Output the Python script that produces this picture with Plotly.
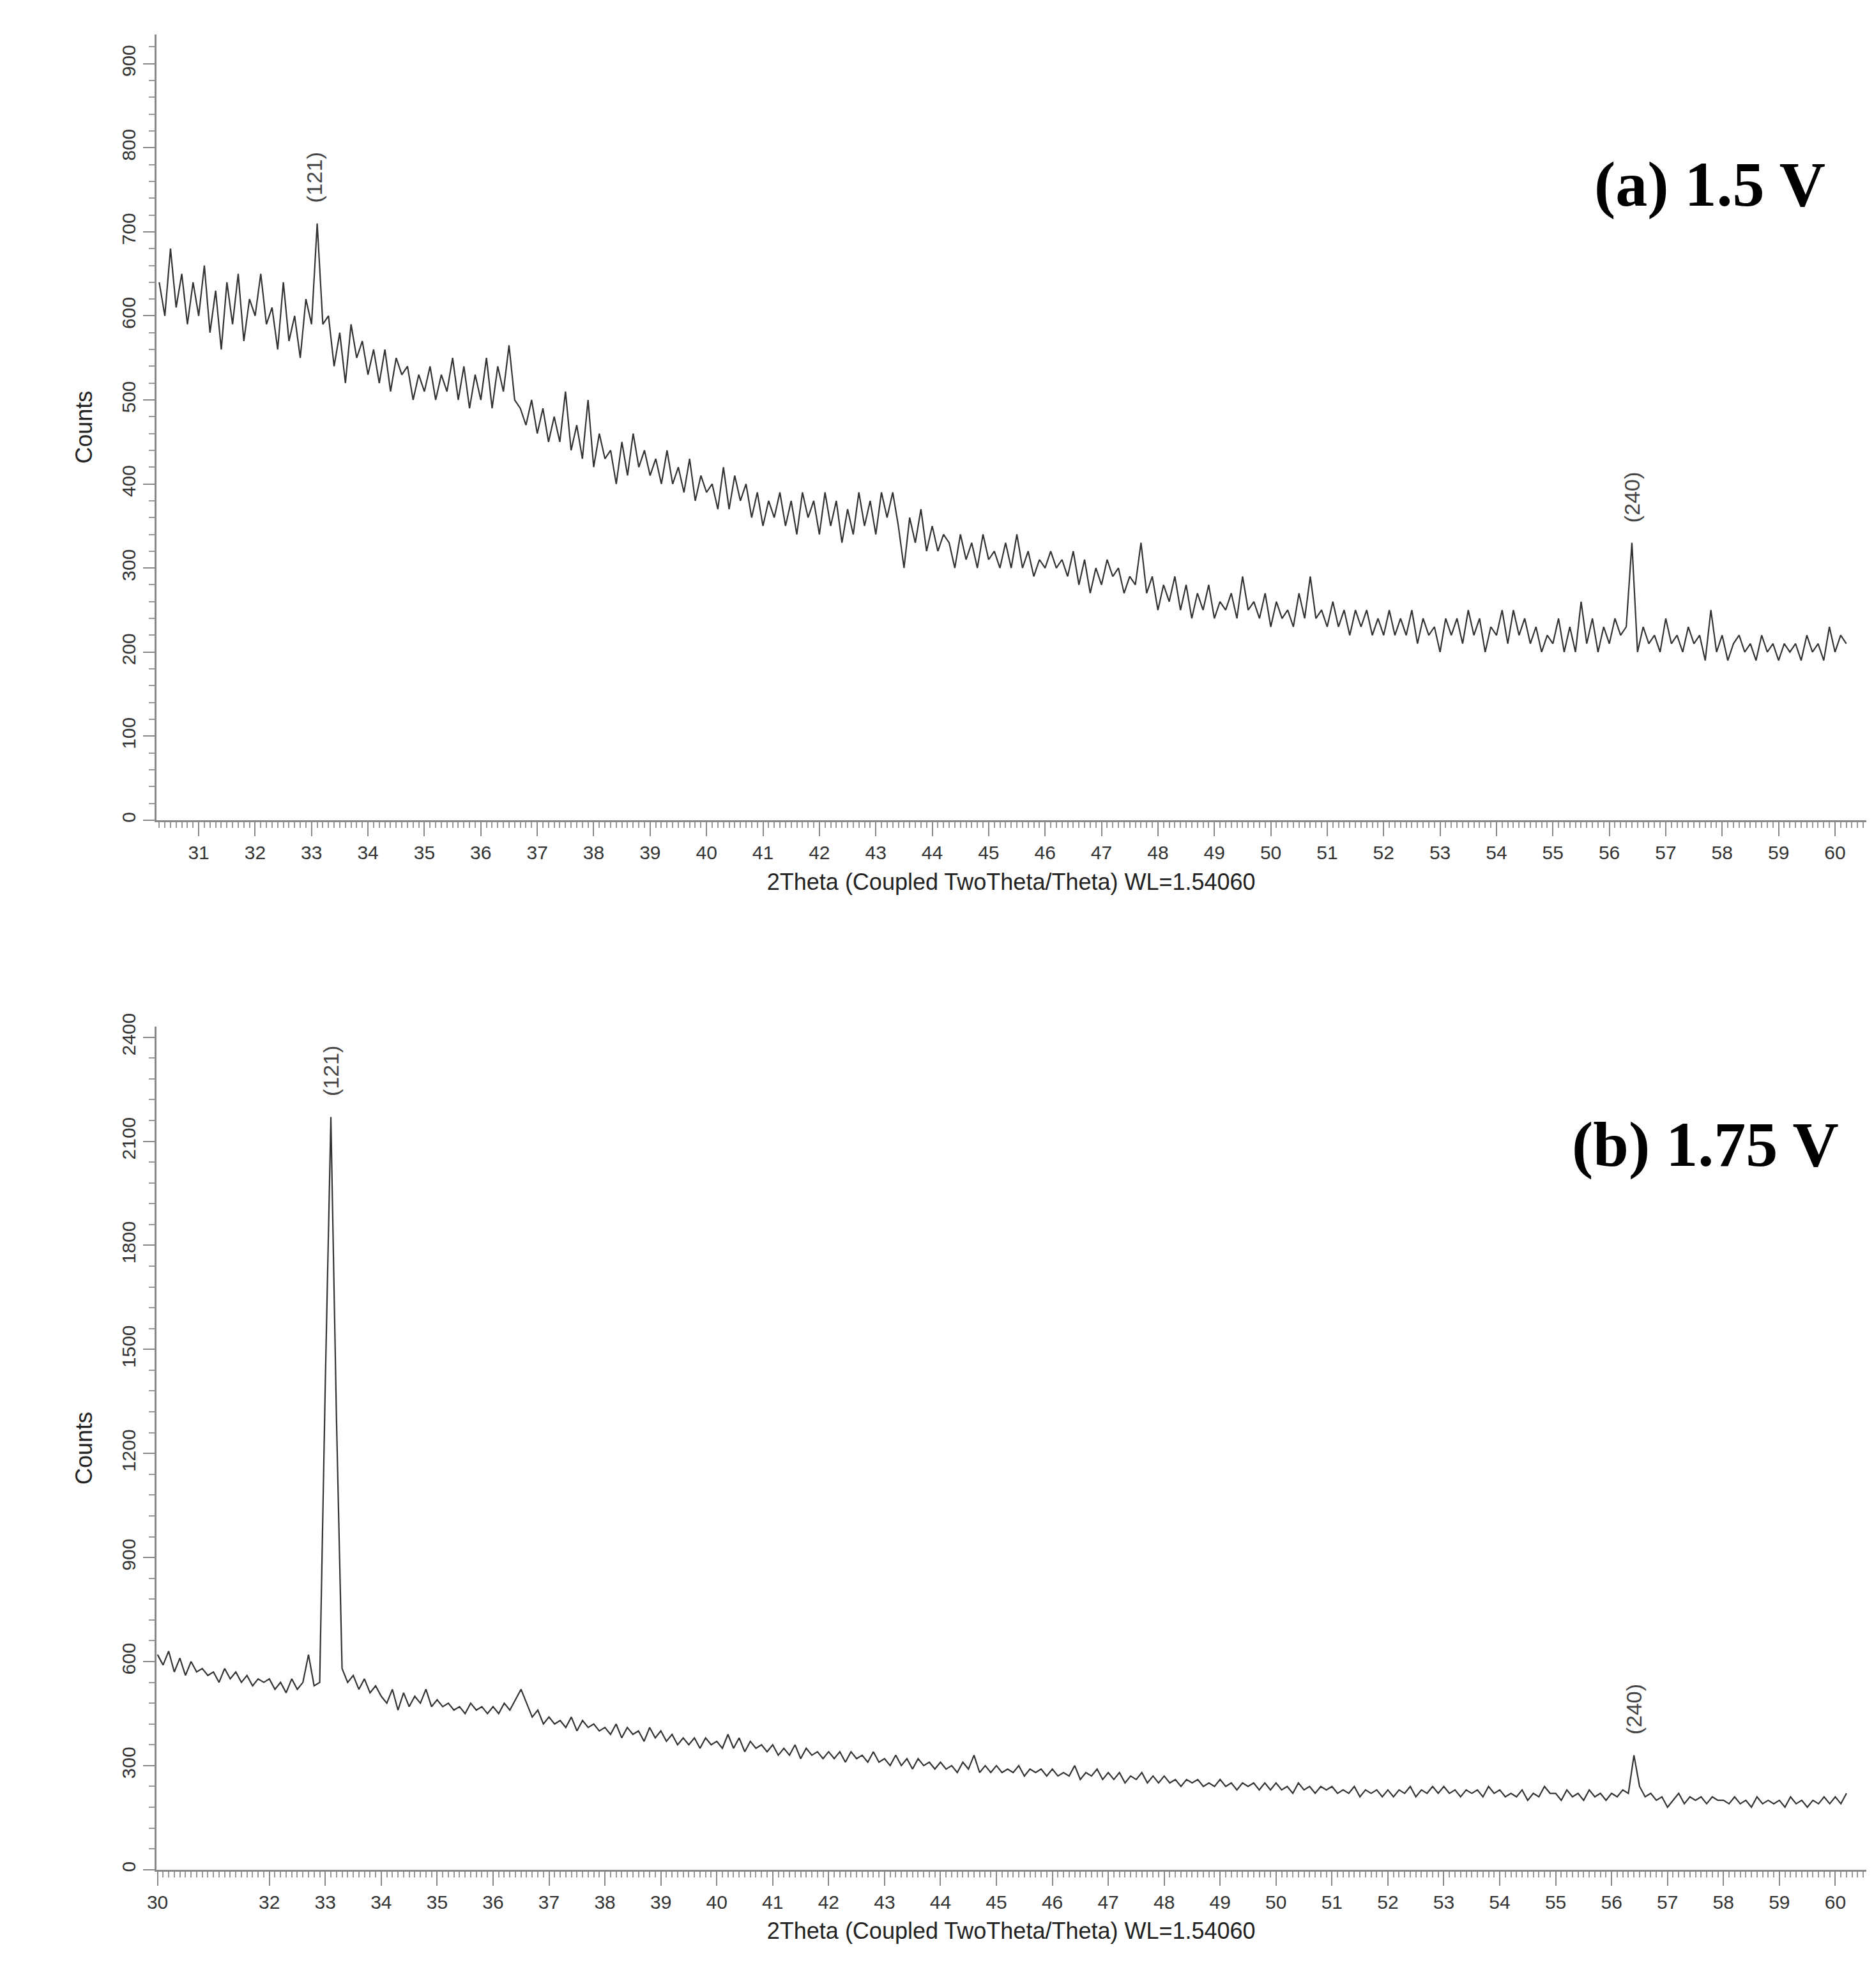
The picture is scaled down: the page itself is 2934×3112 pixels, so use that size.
import numpy as np
import plotly.graph_objects as go

# Panel (a) 1.5 V: start 30.3, step 0.1
a_start = 30.3
a_counts = [
640,600,680,610,650,590,640,600,660,580,
630,560,640,590,650,570,620,600,650,590,
610,560,640,570,600,550,620,590,710,590,
600,540,580,520,590,550,570,530,560,520,
560,510,550,530,540,500,530,510,540,500,
530,510,550,500,540,490,530,500,550,490,
540,510,565,500,490,470,500,460,490,450,
480,450,510,440,470,430,500,420,460,430,
440,400,450,410,460,420,440,410,430,400,
440,400,420,390,430,380,410,390,400,370,
420,370,410,380,400,360,390,350,380,360,
390,350,380,340,390,360,380,340,390,350,
380,330,370,340,390,350,380,340,390,360,
390,350,300,360,330,370,320,350,320,340,
330,300,340,310,330,300,340,310,320,300,
330,300,340,300,320,290,310,300,320,300,
310,290,320,280,310,270,300,280,310,290,
300,270,290,280,330,270,290,250,280,260,
290,250,280,240,270,250,280,240,260,250,
270,240,290,250,260,240,270,230,260,240,
250,230,270,240,290,240,250,230,260,230,
250,220,250,230,250,220,240,220,250,220,
240,220,250,210,240,220,230,200,240,220,
240,210,250,220,240,200,230,220,250,210,
250,220,240,210,230,200,220,210,240,200,
230,200,260,210,240,200,230,210,240,220,
230,330,200,230,210,220,200,240,210,220,
200,230,210,220,190,250,200,220,190,210,
220,200,210,190,220,200,210,190,210,200,
210,190,220,200,210,190,230,200,220,210,
]

# Panel (b) 1.75 V: start 30.0, step 0.1
b_start = 30.0
b_counts = [
620,590,630,570,610,560,600,570,580,560,
570,540,580,550,570,540,560,530,550,540,
550,520,540,510,550,520,540,620,530,540,
1400,2170,1300,580,540,560,520,550,510,530,
500,480,520,460,510,470,500,480,520,470,
490,470,480,460,470,450,480,460,470,450,
470,450,480,460,490,520,480,440,460,420,
440,420,430,410,440,400,430,410,420,400,
410,390,420,380,410,390,400,370,410,380,
400,370,390,360,380,360,380,350,380,360,
370,350,390,350,380,340,370,350,360,340,
360,330,350,330,360,320,350,330,340,320,
340,320,340,310,340,320,330,310,340,310,
320,300,330,300,320,290,320,300,310,290,
310,290,300,280,310,290,330,280,300,280,
300,280,290,280,300,270,290,280,290,270,
290,270,280,270,300,260,280,270,290,260,
280,260,280,250,270,260,280,250,270,250,
270,250,260,240,260,250,260,240,250,240,
260,240,250,230,250,240,250,230,250,230,
250,230,240,220,250,230,240,220,240,230,
240,220,230,220,240,210,230,220,230,210,
230,210,230,220,240,210,230,220,240,220,
240,220,230,210,230,220,230,210,240,220,
230,210,220,210,230,200,220,210,240,220,
220,200,230,210,220,200,230,210,220,200,
220,210,230,220,330,240,210,220,200,210,
180,200,220,190,210,200,210,190,210,200,
200,190,210,190,200,180,210,190,200,190,
200,180,210,190,200,180,200,190,210,190,
210,190,220,
]

a_x = np.round(a_start + 0.1 * np.arange(len(a_counts)), 2)
b_x = np.round(b_start + 0.1 * np.arange(len(b_counts)), 2)

a_ticks = list(range(31, 61))
b_ticks = [30] + list(range(32, 61))
peak_labels = ["(121)", "(240)"]
a_peaks = [(33.05, 710), (56.4, 330)]
b_peaks = [(33.1, 2170), (56.4, 330)]
xtitle = "2Theta (Coupled TwoTheta/Theta) WL=1.54060"

W, H = 2934, 3112
fig = go.Figure()
fig.add_trace(go.Scatter(x=a_x, y=a_counts, mode="lines", line=dict(color="#333", width=2.2),
                         xaxis="x", yaxis="y", showlegend=False))
fig.add_trace(go.Scatter(x=b_x, y=b_counts, mode="lines", line=dict(color="#333", width=2.2),
                         xaxis="x2", yaxis="y2", showlegend=False))

tickfont = dict(family="Liberation Sans Narrow, Liberation Sans, Arial", size=30, color="#333")
common_x = dict(showline=True, linecolor="#888", linewidth=3, ticks="outside", ticklen=22,
                tickwidth=2, tickcolor="#888", showgrid=False, zeroline=False, tickfont=tickfont,
                minor=dict(dtick=0.1, ticks="outside", ticklen=9, tickcolor="#999", tickwidth=1.5),
                title=dict(text=xtitle, font=dict(family="Liberation Sans", size=36, color="#222"), standoff=18))
common_y = dict(showline=True, linecolor="#888", linewidth=3, ticks="outside", ticklen=18,
                tickwidth=2, tickcolor="#888", showgrid=False, zeroline=False, tickfont=tickfont,
                tickangle=-90,
                title=dict(text="Counts", font=dict(family="Liberation Sans", size=36, color="#222"), standoff=30))

fig.update_layout(
    width=W, height=H, margin=dict(l=0, r=0, t=0, b=0),
    plot_bgcolor="white", paper_bgcolor="white",
    xaxis=dict(common_x, domain=[0.076, 0.993], range=[30.25, 60.55], tickvals=a_ticks, anchor="y"),
    yaxis=dict(common_y, domain=[0.5935, 0.992], range=[0, 935], dtick=100,
               minor=dict(dtick=20, ticks="outside", ticklen=9, tickcolor="#999", tickwidth=1.5), anchor="x"),
    xaxis2=dict(common_x, domain=[0.076, 0.993], range=[29.98, 60.55], tickvals=b_ticks, anchor="y2"),
    yaxis2=dict(common_y, domain=[0.0613, 0.4887], range=[0, 2430], dtick=300,
                minor=dict(dtick=60, ticks="outside", ticklen=9, tickcolor="#999", tickwidth=1.5), anchor="x2"),
)

ann_font = dict(family="Liberation Sans", size=34, color="#444")
for (px, py), lab in zip(a_peaks, peak_labels):
    fig.add_annotation(x=px, y=py, xref="x", yref="y", text=lab, textangle=-90, showarrow=False,
                       yanchor="bottom", yshift=30, font=ann_font)
for (px, py), lab in zip(b_peaks, peak_labels):
    fig.add_annotation(x=px, y=py, xref="x2", yref="y2", text=lab, textangle=-90, showarrow=False,
                       yanchor="bottom", yshift=30, font=ann_font)

title_font = dict(family="Liberation Serif", size=100, color="black")
fig.add_annotation(x=0.972, y=0.916, xref="paper", yref="paper", text="<b>(a) 1.5 V</b>",
                   showarrow=False, xanchor="right", yanchor="middle", font=title_font)
fig.add_annotation(x=0.979, y=0.429, xref="paper", yref="paper", text="<b>(b) 1.75 V</b>",
                   showarrow=False, xanchor="right", yanchor="middle", font=title_font)

fig.write_html("out.html")
